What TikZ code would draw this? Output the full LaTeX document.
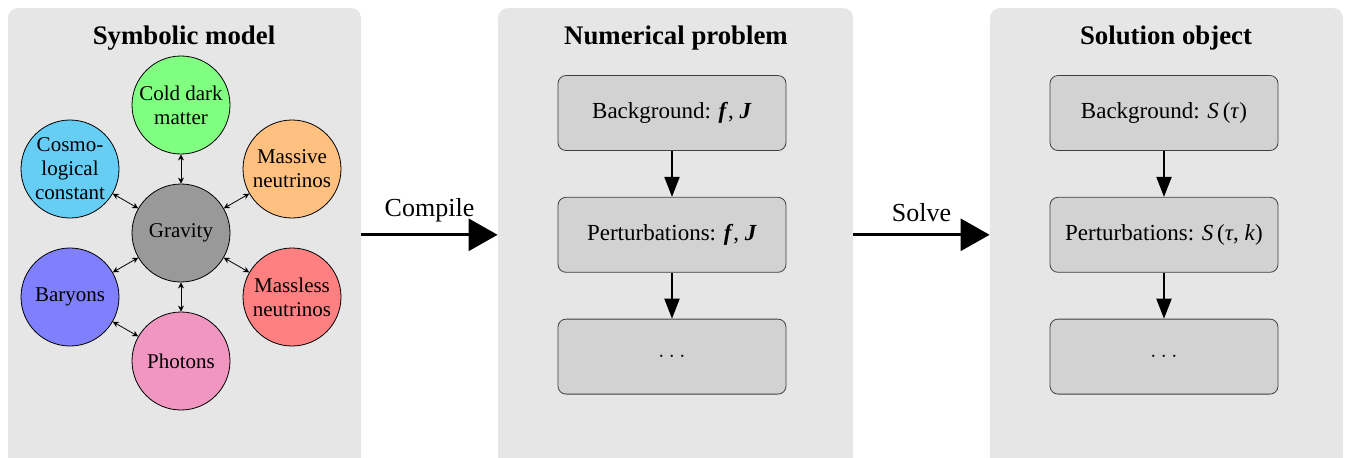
\documentclass[tikz,border=0pt]{standalone}
\usepackage{fontspec}
\setmainfont{Liberation Serif}
\usetikzlibrary{arrows.meta,positioning}
\definecolor{panelgray}{RGB}{230,230,230}
\definecolor{boxgray}{RGB}{210,210,210}
\definecolor{gravgray}{RGB}{153,153,153}
\definecolor{cdmgreen}{RGB}{128,255,128}
\definecolor{lambdablue}{RGB}{102,205,245}
\definecolor{nuorange}{RGB}{255,192,128}
\definecolor{nured}{RGB}{255,128,128}
\definecolor{baryonblue}{RGB}{128,128,255}
\definecolor{photonpink}{RGB}{240,150,192}

\begin{document}
\begin{tikzpicture}[x=0.5pt, y=-0.5pt,
    panel/.style={rectangle, fill=panelgray, rounded corners=5pt},
    title/.style={font=\fontsize{13.4}{16}\selectfont\bfseries},
    species/.style={circle, draw, thin, minimum size=49pt, inner sep=0pt,
        align=center, font=\fontsize{10.5}{12}\selectfont},
    stagebox/.style={rectangle, rounded corners=4pt, draw=black!75, fill=boxgray,
        minimum width=114pt, minimum height=37.5pt, font=\fontsize{11.5}{14}\selectfont},
    couple/.style={{Stealth[length=3pt,width=3pt]}-{Stealth[length=3pt,width=3pt]}, thin},
    flow/.style={-{Triangle[length=10pt,width=7.5pt]}, line width=1pt},
    stage/.style={-{Triangle[length=14.5pt,width=16pt]}, line width=1.5pt},
    steplabel/.style={font=\fontsize{13}{15}\selectfont}]
    \useasboundingbox (0,0) rectangle (1346,457);
    \clip (0,0) rectangle (1346,457);

    % panels
    \node[panel, minimum width=176.5pt, minimum height=240pt] (symbolic) at (184.5,248) {};
    \node[panel, minimum width=177.5pt, minimum height=240pt] (numerical) at (675.5,248) {};
    \node[panel, minimum width=176.5pt, minimum height=240pt] (solution) at (1166.5,248) {};
    \node[title] (symtitle) at (184,38) {Symbolic model};
    \node[title] (numtitle) at (676,38) {Numerical problem};
    \node[title] (soltitle) at (1166,38) {Solution object};

    % species around gravity
    \node[species, fill=gravgray] (gravity) at (181,233) {Gravity};
    \node[species, fill=cdmgreen] (cdm) at (181,105) {Cold dark\\matter};
    \node[species, fill=lambdablue] (lambda) at (70,169) {Cosmo-\\logical\\constant};
    \node[species, fill=nuorange] (massive) at (292,169) {Massive\\neutrinos};
    \node[species, fill=baryonblue] (baryons) at (70,297) {Baryons};
    \node[species, fill=nured] (massless) at (292,297) {Massless\\neutrinos};
    \node[species, fill=photonpink] (photons) at (181,361) {Photons};

    \foreach \s in {cdm, lambda, massive, baryons, massless, photons} {
        \draw[couple] (gravity) -- (\s);
    }
    \draw[couple] (baryons) -- (photons);

    % numerical problem
    \node[stagebox] (nbg) at (672,113) {Background: \textbf{\textit{f}}, \textbf{\textit{J}}};
    \node[stagebox, below=23pt of nbg] (npert) {Perturbations: \textbf{\textit{f}}, \textbf{\textit{J}}};
    \node[stagebox, below=23pt of npert] (nmore) {$\dots$};
    \draw[flow] (nbg) -- (npert);
    \draw[flow] (npert) -- (nmore);

    % solution object
    \node[stagebox] (sbg) at (1164,113) {Background: \textit{S}\,(\textit{τ})};
    \node[stagebox, below=23pt of sbg] (spert) {Perturbations: \textit{S}\,(\textit{τ}, \textit{k})};
    \node[stagebox, below=23pt of spert] (smore) {$\dots$};
    \draw[flow] (sbg) -- (spert);
    \draw[flow] (spert) -- (smore);

    % compile and solve
    \draw[stage] (symbolic.east |- npert) -- (numerical.west |- npert)
        node[midway, above=2.5pt, steplabel] {Compile};
    \draw[stage] (numerical.east |- spert) -- (solution.west |- spert)
        node[midway, above=2.5pt, steplabel] {Solve};
\end{tikzpicture}
\end{document}
